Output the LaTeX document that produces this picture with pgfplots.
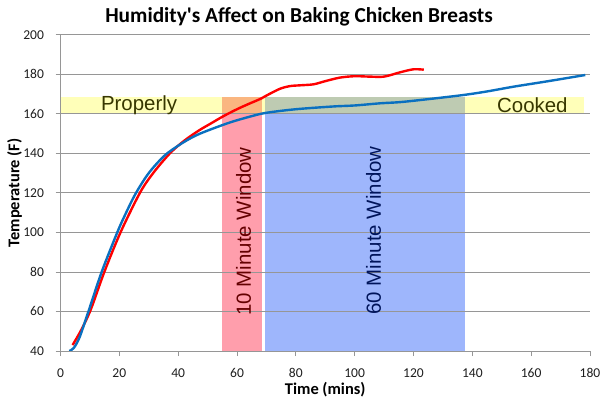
\documentclass[border=0pt]{standalone}
\usepackage{fontspec}
\setmainfont{Carlito}
\newfontfamily\arial{Liberation Sans}
\usepackage{pgfplots}
\pgfplotsset{compat=1.18}
\definecolor{gridgray}{RGB}{150,150,150}
\definecolor{bandyellow}{RGB}{255,255,185}
\definecolor{bandorange}{RGB}{250,182,128}
\definecolor{rectpink}{RGB}{255,158,172}
\definecolor{rectblue}{RGB}{158,182,252}
\definecolor{bandgreen}{RGB}{190,203,178}
\definecolor{linered}{RGB}{255,0,0}
\definecolor{lineblue}{RGB}{10,112,192}
\definecolor{textolive}{RGB}{55,55,0}
\definecolor{textred}{RGB}{100,0,0}
\definecolor{textnavy}{RGB}{0,20,90}
\definecolor{ticktext}{RGB}{30,30,30}
\begin{document}
\begin{tikzpicture}
\begin{axis}[
  at={(0,0)}, anchor=south west,
  scale only axis, width=529.5bp, height=316.3bp,
  xmin=0, xmax=180, ymin=40, ymax=200,
  xtick={0,20,...,180}, ytick={40,60,...,200},
  axis x line*=bottom, axis y line*=left,
  axis line style={gridgray, line width=0.8bp},
  ymajorgrids, grid style={gridgray, line width=0.8bp},
  tick align=outside, major tick length=5bp,
  tick style={gridgray, line width=0.8bp},
  /pgf/number format/assume math mode=true,
  ticklabel style={font=\fontsize{13.6}{16}\selectfont, text=ticktext},
  yticklabel style={xshift=-8bp},
  xticklabel style={yshift=-9bp},
  xlabel={\textbf{Time (mins)}},
  ylabel={\textbf{Temperature (F)}},
  xlabel style={font=\fontsize{16.5}{18}\selectfont, at={(axis description cs:0.5,0)}, anchor=base, yshift=-43bp},
  ylabel style={font=\fontsize{16.5}{18}\selectfont, at={(axis description cs:0,0.5)}, anchor=center, yshift=46bp},
  title={\textbf{Humidity\textquotesingle s Affect on Baking Chicken Breasts}},
  title style={font=\fontsize{21.4}{24}\selectfont, at={(axis description cs:0.4504,1)}, anchor=base, yshift=6bp},
  set layers,
  clip=true,
]
% background bands and windows
\addplot[on layer=axis background, draw=none, fill=bandyellow] coordinates {(0,160) (178,160) (178,168.6) (0,168.6)};
\addplot[on layer=axis background, draw=none, fill=bandorange] coordinates {(55,160) (68.5,160) (68.5,168.6) (55,168.6)};
\addplot[on layer=axis background, draw=none, fill=bandgreen] coordinates {(69.6,160) (137.4,160) (137.4,168.6) (69.6,168.6)};
\addplot[on layer=axis background, draw=none, fill=rectpink] coordinates {(55,40) (68.5,40) (68.5,160) (55,160)};
\addplot[on layer=axis background, draw=none, fill=rectblue] coordinates {(69.6,40) (137.4,40) (137.4,160) (69.6,160)};
% red curve
\addplot[linered, line width=2.4bp, smooth, tension=0.5] coordinates {
(4.1,43) (7,50.5) (10.3,61) (14.9,80) (20.4,100) (27,120) (31.5,130)
(37.2,140) (42,146.3) (47,151.5) (51,155) (55.4,158.8)
(60,162.3) (64,165) (67.9,167.5) (71,170) (74.7,172.7) (78,174) (81.5,174.4)
(86,174.9) (90,176.5) (95,178.3) (100,179) (105,178.8) (110,178.8)
(115.5,181) (120,182.5) (123.5,182.3)};
% blue curve
\addplot[lineblue, line width=2.4bp, smooth, tension=0.5] coordinates {
(3,40) (4.5,41.5) (6.5,47) (9.5,60) (14,80) (19.3,100) (22,109)
(25.5,119.5) (30,130) (35.5,139) (41.2,145) (46,149) (50.9,152)
(58,155.8) (65,158.8) (70,160.5) (80,162.3) (92.8,163.7) (100,164.2)
(108.7,165.3) (115.5,165.9) (125,167.4) (137,169.5) (145,171.3)
(154,173.7) (165,176.3) (178.4,179.6)};
% annotations
\node[font=\arial\fontsize{20.5}{22}\selectfont, text=textolive] at (axis cs:26.7,164.3) {Properly};
\node[font=\arial\fontsize{20.5}{22}\selectfont, text=textolive] at (axis cs:160.4,164.3) {Cooked};
\node[font=\arial\fontsize{20.5}{22}\selectfont, text=textred, rotate=90] at (axis cs:62.2,100.5) {10 Minute Window};
\node[font=\arial\fontsize{20.5}{22}\selectfont, text=textnavy, rotate=90] at (axis cs:106.4,101) {60 Minute Window};
\end{axis}
\pgfresetboundingbox
\path (-60.5bp,-48bp) rectangle (539.5bp,351bp);
\end{tikzpicture}
\end{document}
